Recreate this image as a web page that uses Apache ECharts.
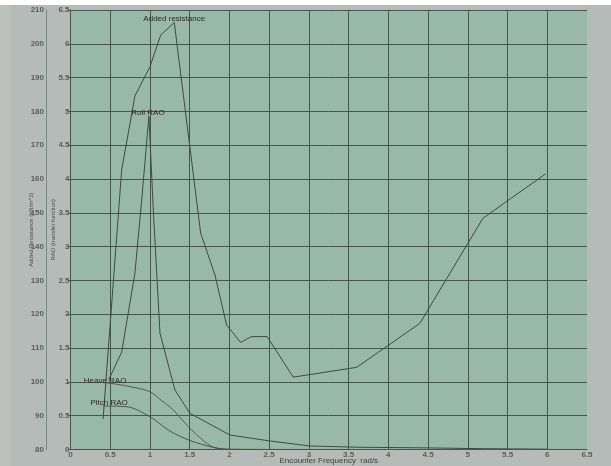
<!DOCTYPE html>
<html>
<head>
<meta charset="utf-8">
<script src="https://cdn.jsdelivr.net/npm/echarts@6/dist/echarts.min.js"></script>
<style>
  html, body { margin: 0; padding: 0; background: #b5bbb8; }
  #chart { width: 611px; height: 466px; }
</style>
</head>
<body>
<div id="chart"></div>
<script>
// Encounter frequency (rad/s) and responses
const addedResFreq = [0.41, 0.644, 0.811, 1.0, 1.135, 1.306, 1.638, 1.818, 1.965, 2.141, 2.279, 2.475, 2.803, 3.6, 4.396, 5.19, 5.977];
const addedResValue = [89.0, 162.7, 184.6, 193.2, 202.6, 206.3, 144.0, 131.6, 116.8, 111.7, 113.4, 113.4, 101.4, 104.3, 117.3, 148.4, 161.5];

const rollFreq = [0.48, 0.644, 0.811, 0.896, 0.987, 1.042, 1.126, 1.314, 1.503, 2.006, 2.509, 3.013, 3.64, 4.4, 5.2, 6.0];
const rollValue = [1.03, 1.44, 2.61, 3.69, 4.93, 3.54, 1.72, 0.88, 0.535, 0.214, 0.126, 0.052, 0.033, 0.025, 0.012, 0.005];

const heaveFreq = [0.41, 0.497, 0.75, 1.0, 1.15, 1.293, 1.525, 1.796, 2.006, 3.0, 4.0, 5.0, 6.0];
const heaveValue = [0.99, 0.98, 0.93, 0.855, 0.72, 0.584, 0.288, 0.033, 0.005, 0.0, 0.0, 0.0, 0.0];

const pitchFreq = [0.41, 0.707, 1.0, 1.25, 1.503, 1.796, 2.006, 3.0, 4.0, 5.0, 6.0];
const pitchValue = [0.643, 0.633, 0.485, 0.274, 0.133, 0.033, 0.0, 0.0, 0.0, 0.0, 0.0];

const pairs = (xs, ys) => xs.map((x, i) => [x, ys[i]]);

const gridColor = '#45584e';
const labelFont = { fontFamily: 'Liberation Sans, Arial, sans-serif', fontSize: 8, fontWeight: 'bold', color: '#595e5b' };
// last vertical grid line (at 6.5) is not drawn
const vLineColors = Array.from({ length: 14 }, (_, i) => i === 13 ? 'rgba(0,0,0,0)' : gridColor);

function tag(text, coord, pos, offset) {
  return {
    coord: coord,
    symbol: 'circle',
    symbolSize: 0,
    label: {
      show: true, formatter: text, position: pos, offset: offset || [0, 0], distance: 1,
      fontFamily: 'Liberation Sans, Arial, sans-serif', fontSize: 8, color: '#2e2822'
    }
  };
}

const chart = echarts.init(document.getElementById('chart'));
chart.setOption({
  backgroundColor: '#b5bbb8',
  animation: false,
  graphic: [
    { type: 'rect', left: 0, top: 0, shape: { width: 611, height: 5 }, style: { fill: '#ffffff' }, silent: true },
    { type: 'rect', left: 0, top: 5, shape: { width: 10, height: 461 }, style: { fill: '#bcc1be' }, silent: true }
  ],
  grid: {
    left: 70.5, right: 24, top: 10, bottom: 16.5,
    outerBoundsMode: 'none', containLabel: false,
    show: true, backgroundColor: '#98b9a7', borderWidth: 0
  },
  xAxis: {
    type: 'value', min: 0, max: 6.5, interval: 0.5,
    name: 'Encounter Frequency  rad/s', nameLocation: 'middle', nameGap: 7, nameMoveOverlap: false,
    nameTextStyle: { fontFamily: 'Liberation Sans, Arial, sans-serif', fontSize: 8, color: '#3a3f3c' },
    axisLine: { show: true, lineStyle: { color: gridColor, width: 1 } },
    axisTick: { show: false },
    axisLabel: Object.assign({ margin: 1 }, labelFont),
    splitLine: { show: true, lineStyle: { color: vLineColors, width: 1 } }
  },
  yAxis: [
    {
      type: 'value', min: 0, max: 6.5, interval: 0.5, position: 'left',
      name: 'RAO (transfer function)', nameLocation: 'middle', nameGap: 14, nameRotate: 90, nameMoveOverlap: false,
      nameTextStyle: { fontFamily: 'Liberation Sans, Arial, sans-serif', fontSize: 6, color: '#4a4f4c' },
      axisLine: { show: true, lineStyle: { color: gridColor, width: 1 } },
      axisTick: { show: true, length: 3, lineStyle: { color: gridColor } },
      axisLabel: Object.assign({ margin: 1 }, labelFont),
      splitLine: { show: true, lineStyle: { color: gridColor, width: 1 } }
    },
    {
      type: 'value', min: 80, max: 210, interval: 10, position: 'left', offset: 24.5,
      name: 'Added Resistance (kN/m^2)', nameLocation: 'middle', nameGap: 12, nameRotate: 90, nameMoveOverlap: false,
      nameTextStyle: { fontFamily: 'Liberation Sans, Arial, sans-serif', fontSize: 6, color: '#4a4f4c' },
      axisLine: { show: true, lineStyle: { color: '#7d8a83', width: 1 } },
      axisTick: { show: false },
      axisLabel: Object.assign({ margin: 2 }, labelFont),
      splitLine: { show: false }
    }
  ],
  series: [
    {
      name: 'Added resistance', type: 'line', yAxisIndex: 1, symbol: 'none',
      data: pairs(addedResFreq, addedResValue),
      lineStyle: { color: '#3d4a43', width: 1 },
      markPoint: { data: [tag('Added resistance', [addedResFreq[5], addedResValue[5]], 'top', [0, 1])] }
    },
    {
      name: 'Roll RAO', type: 'line', yAxisIndex: 0, symbol: 'none',
      data: pairs(rollFreq, rollValue),
      lineStyle: { color: '#3d4a43', width: 1 },
      markPoint: { data: [tag('Roll RAO', [rollFreq[4], rollValue[4]], 'top', [-1, 2])] }
    },
    {
      name: 'Heave RAO', type: 'line', yAxisIndex: 0, symbol: 'none', smooth: 0.3,
      data: pairs(heaveFreq, heaveValue),
      lineStyle: { color: '#5a5a52', width: 1 },
      markPoint: { data: [tag('Heave RAO', [heaveFreq[0], heaveValue[0]], 'inside', [2, -2])] }
    },
    {
      name: 'Pitch RAO', type: 'line', yAxisIndex: 0, symbol: 'none', smooth: 0.3,
      data: pairs(pitchFreq, pitchValue),
      lineStyle: { color: '#4f524c', width: 1 },
      markPoint: { data: [tag('Pitch RAO', [pitchFreq[0], pitchValue[0]], 'inside', [6, -3])] }
    }
  ]
});
</script>
</body>
</html>
